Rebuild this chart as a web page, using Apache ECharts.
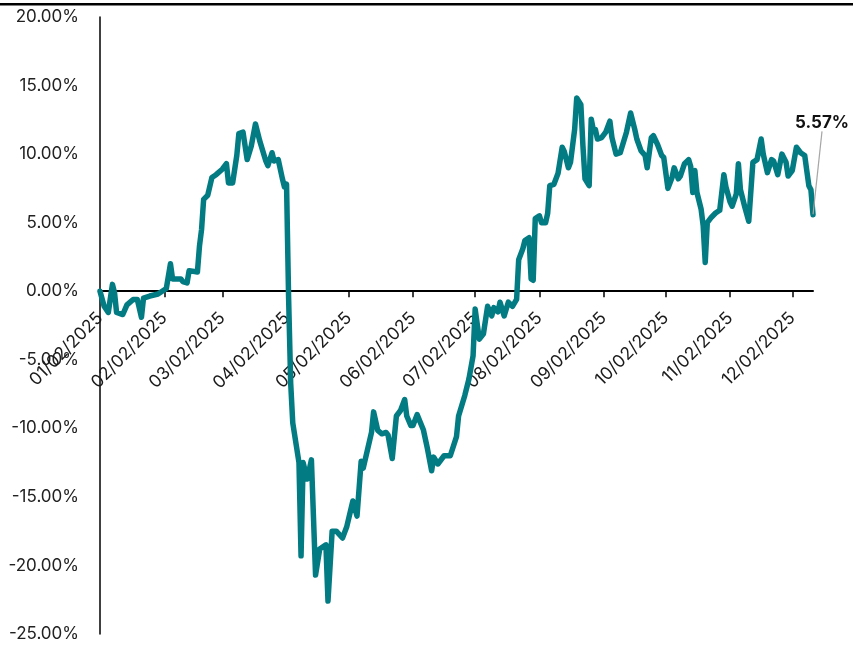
<!DOCTYPE html>
<html>
<head>
<meta charset="utf-8">
<script src="https://cdn.jsdelivr.net/npm/echarts@6/dist/echarts.min.js"></script>
<style>
html,body{margin:0;padding:0;background:#fff;}
#chart{width:853px;height:645px;}
</style>
</head>
<body>
<div id="chart"></div>
<script>
// ---- data ----
const dates = [
'2025-01-02','2025-01-04','2025-01-06','2025-01-08','2025-01-09','2025-01-10','2025-01-13','2025-01-15','2025-01-18','2025-01-20',
'2025-01-22','2025-01-23','2025-01-26','2025-01-30','2025-02-01','2025-02-03','2025-02-05','2025-02-06','2025-02-10','2025-02-11',
'2025-02-13','2025-02-14','2025-02-18','2025-02-19','2025-02-20','2025-02-21','2025-02-23','2025-02-25','2025-02-27','2025-03-02',
'2025-03-04','2025-03-05','2025-03-07','2025-03-09','2025-03-10','2025-03-12','2025-03-14','2025-03-16','2025-03-18','2025-03-20',
'2025-03-23','2025-03-24','2025-03-26','2025-03-27','2025-03-29','2025-03-31','2025-04-01','2025-04-02','2025-04-03','2025-04-04',
'2025-04-05','2025-04-08','2025-04-09','2025-04-10','2025-04-12','2025-04-14','2025-04-16','2025-04-18','2025-04-21','2025-04-22',
'2025-04-24','2025-04-26','2025-04-29','2025-05-01','2025-05-04','2025-05-06','2025-05-08','2025-05-09','2025-05-13','2025-05-14',
'2025-05-16','2025-05-18','2025-05-20','2025-05-21','2025-05-23','2025-05-25','2025-05-27','2025-05-29','2025-05-30','2025-06-01',
'2025-06-02','2025-06-04','2025-06-07','2025-06-09','2025-06-11','2025-06-12','2025-06-14','2025-06-17','2025-06-20','2025-06-23',
'2025-06-24','2025-06-27','2025-06-29','2025-07-01','2025-07-02','2025-07-04','2025-07-06','2025-07-08','2025-07-10','2025-07-11',
'2025-07-13','2025-07-14','2025-07-16','2025-07-18','2025-07-20','2025-07-22','2025-07-23','2025-07-25','2025-07-26','2025-07-28',
'2025-07-29','2025-07-30','2025-07-31','2025-08-02','2025-08-03','2025-08-05','2025-08-06','2025-08-07','2025-08-09','2025-08-11',
'2025-08-13','2025-08-14','2025-08-16','2025-08-17','2025-08-19','2025-08-20','2025-08-22','2025-08-23','2025-08-24','2025-08-26',
'2025-08-27','2025-08-28','2025-08-29','2025-08-30','2025-09-01','2025-09-03','2025-09-05','2025-09-06','2025-09-08','2025-09-10',
'2025-09-13','2025-09-15','2025-09-17','2025-09-18','2025-09-20','2025-09-22','2025-09-23','2025-09-25','2025-09-26','2025-09-28',
'2025-09-30','2025-10-01','2025-10-03','2025-10-05','2025-10-06','2025-10-08','2025-10-09','2025-10-11','2025-10-13','2025-10-14',
'2025-10-15','2025-10-16','2025-10-17','2025-10-19','2025-10-20','2025-10-21','2025-10-22','2025-10-24','2025-10-26','2025-10-28',
'2025-10-30','2025-10-31','2025-11-02','2025-11-03','2025-11-05','2025-11-06','2025-11-07','2025-11-09','2025-11-11','2025-11-13',
'2025-11-15','2025-11-17','2025-11-18','2025-11-20','2025-11-22','2025-11-23','2025-11-25','2025-11-27','2025-11-29','2025-11-30',
'2025-12-02','2025-12-04','2025-12-06','2025-12-08','2025-12-09','2025-12-10','2025-12-11','2025-12-12'
];
const returns = [
0.0,-1.1,-1.55,0.5,-0.1,-1.55,-1.7,-1.0,-0.6,-0.6,
-1.9,-0.5,-0.35,-0.2,0.0,0.2,2.0,0.9,0.9,0.7,
0.6,1.5,1.4,3.3,4.5,6.7,7.0,8.3,8.5,8.9,
9.3,7.9,7.9,9.9,11.5,11.6,9.6,10.6,12.2,11.0,
9.5,9.15,10.1,9.5,9.6,8.2,7.6,7.8,-0.5,-6.7,
-9.6,-12.5,-19.3,-12.5,-13.7,-12.3,-20.7,-18.8,-18.5,-22.6,
-17.5,-17.5,-18.0,-17.2,-15.3,-16.4,-12.4,-12.9,-10.3,-8.8,
-10.15,-10.4,-10.3,-10.5,-12.2,-9.1,-8.7,-7.9,-9.1,-9.8,
-9.8,-9.0,-10.1,-11.5,-13.1,-12.1,-12.6,-12.0,-12.0,-10.6,
-9.1,-7.6,-6.4,-4.7,-1.3,-3.5,-3.1,-1.1,-1.8,-1.2,
-1.5,-0.8,-1.8,-0.8,-1.1,-0.6,2.3,3.1,3.7,3.9,
0.9,0.8,5.3,5.5,5.0,5.0,5.7,7.7,7.8,8.6,
10.5,10.2,9.0,9.4,11.8,14.1,13.6,10.6,8.2,7.7,
12.55,11.8,11.8,11.1,11.2,11.6,12.4,11.2,10.0,10.1,
11.6,13.0,11.8,11.1,10.25,9.9,9.0,11.2,11.35,10.7,
9.9,9.75,7.5,8.3,9.0,8.2,8.4,9.3,9.6,9.1,
7.2,8.8,7.2,6.0,4.8,2.1,5.0,5.4,5.7,5.9,
8.5,7.6,6.5,6.2,7.1,9.3,7.4,6.2,5.1,9.4,
9.6,11.1,10.0,8.65,9.6,9.5,8.5,10.0,9.4,8.4,
8.8,10.5,10.1,9.9,8.8,7.7,7.4,5.57
];
const tickDates = ['2025-01-02','2025-02-02','2025-03-02','2025-04-02','2025-05-02','2025-06-02',
                   '2025-07-02','2025-08-02','2025-09-02','2025-10-02','2025-11-02','2025-12-02'];
const axisStart = '2025-01-02';
const axisEnd = '2025-12-12';
const yTicks = [-25, -20, -15, -10, -5, 0, 5, 10, 15, 20];
const lastLabel = '5.57%';

// ---- helpers ----
function ts(s){ const p = s.split('-').map(Number); return Date.UTC(p[0], p[1]-1, p[2]); }
function pad(n){ return (n < 10 ? '0' : '') + n; }
function fmtDate(v){ const d = new Date(Math.round(v)); return pad(d.getUTCMonth()+1) + '/' + pad(d.getUTCDate()) + '/' + d.getUTCFullYear(); }

const FONT = 'Inter';
const W = 853, H = 645;
const GRID = { left: 100, right: 40, top: 17, bottom: 11 };
const yMin = yTicks[0], yMax = yTicks[yTicks.length - 1];
// place the date axis on the zero line of the value axis
const zeroShift = (H - GRID.top - GRID.bottom) * (0 - yMin) / (yMax - yMin);

const seriesData = dates.map((d, i) => {
  const item = { value: [ts(d), returns[i]] };
  if (i === dates.length - 1) {
    item.symbol = 'circle';
    item.symbolSize = 1;
    item.label = {
      show: true, position: 'top', formatter: lastLabel,
      fontFamily: FONT, fontWeight: 'bold', fontSize: 17, color: '#111'
    };
  }
  return item;
});

const chart = echarts.init(document.getElementById('chart'), null, { renderer: 'canvas' });
chart.setOption({
  animation: false,
  backgroundColor: '#fff',
  grid: Object.assign({ containLabel: false, outerBoundsMode: 'none' }, GRID),
  xAxis: {
    type: 'value',
    min: ts(axisStart),
    max: ts(axisEnd),
    offset: -zeroShift,
    axisLine: { onZero: false, lineStyle: { color: '#000', width: 2 } },
    axisTick: { show: true, length: 6, lineStyle: { color: '#000', width: 1.5 }, customValues: tickDates.map(ts) },
    axisLabel: {
      customValues: tickDates.map(ts),
      formatter: v => fmtDate(v),
      rotate: 45, margin: 24,
      fontFamily: FONT, fontSize: 17.5, color: '#1a1a1a'
    },
    splitLine: { show: false }
  },
  yAxis: {
    type: 'value',
    min: yMin, max: yMax, interval: 5,
    axisLine: { show: true, lineStyle: { color: '#000', width: 1.5 } },
    axisTick: { show: false },
    axisLabel: { formatter: v => v.toFixed(2) + '%', margin: 21, fontFamily: FONT, fontSize: 17, color: '#222' },
    splitLine: { show: false }
  },
  series: [{
    type: 'line',
    data: seriesData,
    showSymbol: true,
    symbol: 'none',
    smooth: false,
    lineStyle: { color: '#027B82', width: 5.5, cap: 'round', join: 'round' },
    itemStyle: { color: '#027B82' },
    labelLayout: { dx: 9, dy: -78 },
    labelLine: { show: true, lineStyle: { color: '#a6a6a6', width: 1.2 } }
  }],
  graphic: [{ type: 'rect', left: 0, top: 3, shape: { width: W, height: 2.5 }, style: { fill: '#000' }, silent: true }]
});
</script>
</body>
</html>
